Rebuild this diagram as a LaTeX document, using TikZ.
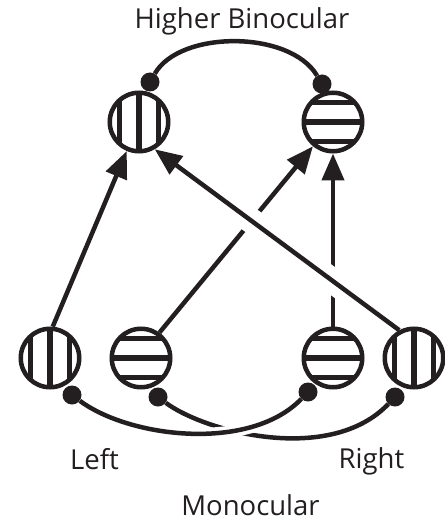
\documentclass[tikz,border=0pt]{standalone}
\usepackage{fontspec}
\setmainfont{Open Sans}
\usetikzlibrary{arrows.meta,calc}
\definecolor{ink}{RGB}{35,31,32}
\begin{document}
\begin{tikzpicture}[x=1pt,y=-1pt,
  every path/.style={color=ink},
  ring/.style={circle,draw=ink,line width=4.5pt,minimum size=58.5pt,inner sep=0pt,fill=white},
  vstripes/.style={path picture={\foreach \dd in {-19.5,0,19.5}{\draw[ink,line width=5.5pt] ([xshift=\dd pt]path picture bounding box.north) -- ([xshift=\dd pt]path picture bounding box.south);}}},
  hstripes/.style={path picture={\foreach \dd in {-19.5,0,19.5}{\draw[ink,line width=5.5pt] ([yshift=\dd pt]path picture bounding box.west) -- ([yshift=\dd pt]path picture bounding box.east);}}},
  blob/.style={circle,fill=ink,inner sep=0pt,minimum size=19pt},
  arr/.style={draw=ink,line width=4.5pt,-{Triangle[width=22pt,length=27pt]}},
  conn/.style={draw=ink,line width=4.5pt},
  lbl/.style={font=\fontsize{27.5}{33}\selectfont,text=ink,anchor=base,inner sep=0pt}]
\useasboundingbox (0,0) rectangle (444,521);
% circles
\node[ring,vstripes] (t1) at (139,122) {};
\node[ring,hstripes] (t2) at (333,122) {};
\node[ring,vstripes] (b1) at (50,358) {};
\node[ring,hstripes] (b2) at (141,358) {};
\node[ring,hstripes] (b3) at (333,358) {};
\node[ring,vstripes] (b4) at (414,358) {};
% dots
\node[blob] (dt1) at (150,82) {};
\node[blob] (dt2) at (322,84) {};
\node[blob] (db1) at (72,395) {};
\node[blob] (db2) at (158,397) {};
\node[blob] (db3) at (308,392) {};
\node[blob] (db4) at (395,397) {};
% labels
\node[lbl] (hb) at (242,29) {Higher Binocular};
\node[lbl] (le) at (94.5,469) {Left};
\node[lbl] (ri) at (371.5,468) {Right};
\node[lbl] (mo) at (250.5,515) {Monocular};
% top arc
\draw[conn] (dt1) .. controls (180,30) and (290,30) .. (dt2);
% bottom curves
\draw[conn] (db2) .. controls (205,432) and (330,465) .. (db4);
\draw[conn,preaction={draw=white,line width=12pt}] (db1) .. controls (130,438) and (250,452) .. (db3);
% arrows
\draw[arr] (b2.54) -- (t2);
\draw[arr] (b3.north) -- (t2.south);
\draw[white,line width=25pt] ($(b4.118)!0.2!(t1.-60)$) -- ($(b4.118)!0.7!(t1.-60)$);
\draw[arr] (b4.118) -- (t1.-60);
\draw[arr] (b1.85) -- (t1);
\end{tikzpicture}
\end{document}
